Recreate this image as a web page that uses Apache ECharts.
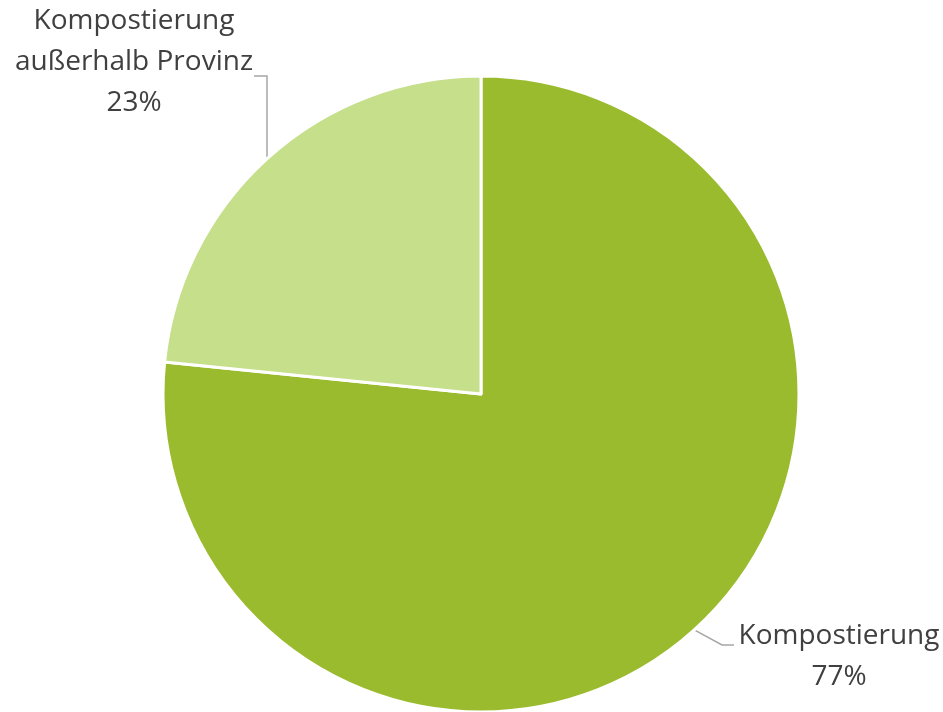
<!DOCTYPE html>
<html lang="de">
<head>
    <meta charset="UTF-8">
    <title>Kompostierung</title>
    <script src="https://cdn.jsdelivr.net/npm/echarts@6/dist/echarts.min.js"></script>
    <style>
        html, body { margin: 0; padding: 0; background: #fff; }
        #pie { width: 943px; height: 712px; }
    </style>
</head>
<body>
    <div id="pie"></div>
    <script type="text/javascript">
        // Anteile in Prozent (aus der Grafik geschätzt, Beschriftung gerundet)
        var names = ['Kompostierung', 'Kompostierung\naußerhalb Provinz'];
        var values = [76.6, 23.4];
        var colors = ['#9bbb2f', '#c5df8b'];

        var pieData = [];
        for (var i = 0; i < names.length; i++) {
            pieData.push({
                name: names[i],
                value: values[i],
                itemStyle: { color: colors[i] }
            });
        }

        var pieChart = echarts.init(document.getElementById('pie'));
        pieChart.setOption({
            animation: false,
            series: [{
                type: 'pie',
                center: [481, 394],
                radius: 318,
                startAngle: 90,
                clockwise: true,
                data: pieData,
                itemStyle: {
                    borderColor: '#ffffff',
                    borderWidth: 3
                },
                label: {
                    show: true,
                    formatter: function (p) {
                        return p.name + '\n' + Math.round(p.percent) + '%';
                    },
                    fontFamily: 'Open Sans',
                    fontSize: 28,
                    lineHeight: 41,
                    color: '#404040',
                    align: 'center',
                    overflow: 'none',
                    width: 300
                },
                labelLine: {
                    show: true,
                    lineStyle: { color: '#a6a6a6', width: 1.5 }
                },
                labelLayout: function (p) {
                    var start = p.labelLinePoints ? p.labelLinePoints[0] : [0, 0];
                    if (p.dataIndex === 0) {
                        return {
                            x: 839, y: 657,
                            align: 'center', verticalAlign: 'middle',
                            labelLinePoints: [start, [722, 645], [734, 645]]
                        };
                    }
                    return {
                        x: 134, y: 62,
                        align: 'center', verticalAlign: 'middle',
                        labelLinePoints: [[267, 157], [267, 76], [254, 76]]
                    };
                }
            }]
        });
    </script>
</body>
</html>
